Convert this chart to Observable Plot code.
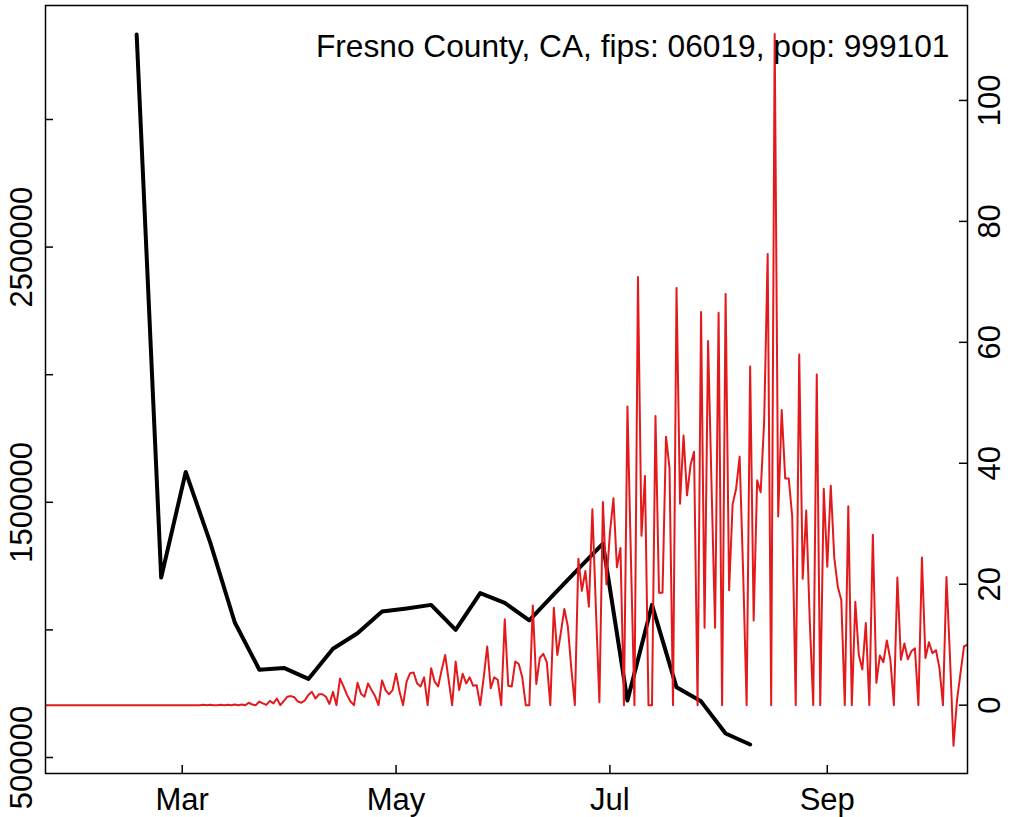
<!DOCTYPE html>
<html><head><meta charset="utf-8">
<style>html,body{margin:0;padding:0;background:#fff;} svg{display:block;}</style>
<script src="https://cdn.jsdelivr.net/npm/d3@7"></script>
<script src="https://cdn.jsdelivr.net/npm/@observablehq/plot@0.6"></script>
</head><body><div id="chart"></div>
<script>
const title = "Fresno County, CA, fips: 06019, pop: 999101";

// weekly series (left axis), starting 2020-02-17, every 7 days
const blackStart = "2020-02-17";
const blackValues = [3333000, 1205000, 1619000, 1342000, 1029000, 844000, 851000, 808000, 926000, 987000,
  1072000, 1084000, 1098000, 1000000, 1144000, 1106000, 1037000, 1139000, 1239000, 1338000,
  723000, 1098000, 775000, 720000, 594000, 551000];

// daily series (right axis), starting 2020-01-22
const redStart = "2020-01-22";
const redValues = [
  0,0,0,0,0,0,0,0,0,0, 0,0,0,0,0,0,0,0,0,0, 0,0,0,0,0,0,0,0,0,0, 0,0,0,0,0,0,0,0,0,0, 0,0,0,0,0,
  0.05,0,0.05,0,0,0.05,0,0.05,0,0.1,0,0.1,0,
  0.4,0.1,0,0.6,0.3,0.05,0.7,0.3,1.1,0,0.7,1.4,
  1.5,1.3,0.6,0.4,0.8,1.7,2.2,1.1,1.8,1.8,
  1.4,0.2,2.2,0,4.4,3.1,1.7,0.6,0,3.7,
  1.9,1.4,3.6,2.5,1.5,0,4.1,2.5,1.8,2.5,
  5.2,2.2,0,3.9,5.3,5.4,3.6,3.1,4.6,0,
  6.1,3.9,3.1,5.8,8.3,4.2,0,7.2,2.5,5.2,
  3.6,4.6,3.2,3.3,0,4.6,9.7,2.8,4.6,4.2,
  0,14.2,3.2,3.1,7.2,6.8,4.6,0,0,16.5,
  3.5,7.8,8.5,7.1,0,16.1,8.3,12,15.9,13,
  6,0,24.2,18.9,22.2,16.3,32.4,16,0.5,33.6,
  20,28.5,34.2,22.8,26,0,49.4,24,0,70.8,
  28,37.9,0,0,47.8,18.6,18.6,44.4,39.2,0,
  69,33.3,44.6,34.7,39.7,41.9,0,65,12.8,60.2,
  36,12.8,64.9,0,68,19,33.2,35.8,41.1,22,
  0,56,14,37.2,35.2,47,74.6,0,111,31.2,
  48.8,37.5,37.5,31.2,0,58,20.9,32.2,14,0,
  54.7,0,35.8,22.9,36.3,24.4,19.6,17.4,0,32.9,
  0,17.1,8.3,5.9,13.6,0,28.2,3.7,8.2,7.1,
  10.7,7.5,0,21.1,7.5,10.2,7.6,8.9,9.4,0,
  24.4,7.8,10.4,8.6,9.1,6.1,0,21.2,8,-6.7,
  0.8,5.3,9.7,10
];

const xTicks = ["2020-03-01", "2020-05-01", "2020-07-01", "2020-09-01"];
const xTickLabels = ["Mar", "May", "Jul", "Sep"];
const leftTicks = [500000, 1000000, 1500000, 2000000, 2500000, 3000000];
const leftTickLabels = ["500000", "", "1500000", "", "2500000", ""];
const rightTicks = [0, 20, 40, 60, 80, 100];
const rightTickLabels = ["0", "20", "40", "60", "80", "100"];

const xDomain = ["2020-01-22", "2020-10-11"];
const leftDomain = [437300, 3446700];
const rightDomain = [-11.3, 115.7];

const W = 1010, H = 817;
const mL = 45, mR = 43, mT = 5, mB = 44;
const frameW = W - mL - mR, frameH = H - mT - mB;
const tickLen = 8;
const FONT = "'Liberation Sans', Arial, Helvetica, sans-serif";
const FS = 31;

const parse = d3.utcParse("%Y-%m-%d");
const r2b = d3.scaleLinear().domain(rightDomain).range(leftDomain);

const blackData = blackValues.map((v, i) => ({date: d3.utcDay.offset(parse(blackStart), 7 * i), v}));
const redData = redValues.map((v, i) => ({date: d3.utcDay.offset(parse(redStart), i), v}));
const xTickDates = xTicks.map(parse);

const chart = Plot.plot({
  width: W, height: H,
  marginLeft: mL, marginRight: mR, marginTop: mT, marginBottom: mB,
  style: {fontFamily: FONT, background: "white"},
  x: {type: "utc", domain: xDomain.map(parse), axis: null},
  y: {domain: leftDomain, axis: null},
  marks: [
    Plot.line(blackData, {x: "date", y: "v", stroke: "black", strokeWidth: 4}),
    Plot.line(redData, {x: "date", y: d => r2b(d.v), stroke: "#e31a1c", strokeWidth: 2, clip: true}),
    Plot.frame({stroke: "black", strokeWidth: 1.5}),
    Plot.ruleX(xTickDates, {x: d => d, insetTop: frameH - tickLen, stroke: "black", strokeWidth: 1.5}),
    Plot.ruleY(leftTicks, {y: d => d, insetRight: frameW - tickLen, stroke: "black", strokeWidth: 1.5}),
    Plot.ruleY(rightTicks, {y: d => r2b(d), insetLeft: frameW - tickLen, stroke: "black", strokeWidth: 1.5}),
    Plot.text(xTickDates, {x: d => d, text: (d, i) => xTickLabels[i], frameAnchor: "bottom", dy: 27,
      lineAnchor: "middle", fontSize: FS, fill: "black"}),
    Plot.text(leftTicks, {y: d => d, text: (d, i) => leftTickLabels[i], frameAnchor: "left", dx: -23,
      rotate: -90, textAnchor: "middle", lineAnchor: "middle", fontSize: FS, fill: "black"}),
    Plot.text(rightTicks, {y: d => r2b(d), text: (d, i) => rightTickLabels[i], frameAnchor: "right", dx: 23,
      rotate: -90, textAnchor: "middle", lineAnchor: "middle", fontSize: FS, fill: "black"}),
    Plot.text([title], {text: d => d, frameAnchor: "top-right", dx: -18, dy: 41, textAnchor: "end",
      lineAnchor: "middle", fontSize: 31.7, fill: "black"})
  ]
});
document.getElementById("chart").appendChild(chart);
</script>
</body></html>
